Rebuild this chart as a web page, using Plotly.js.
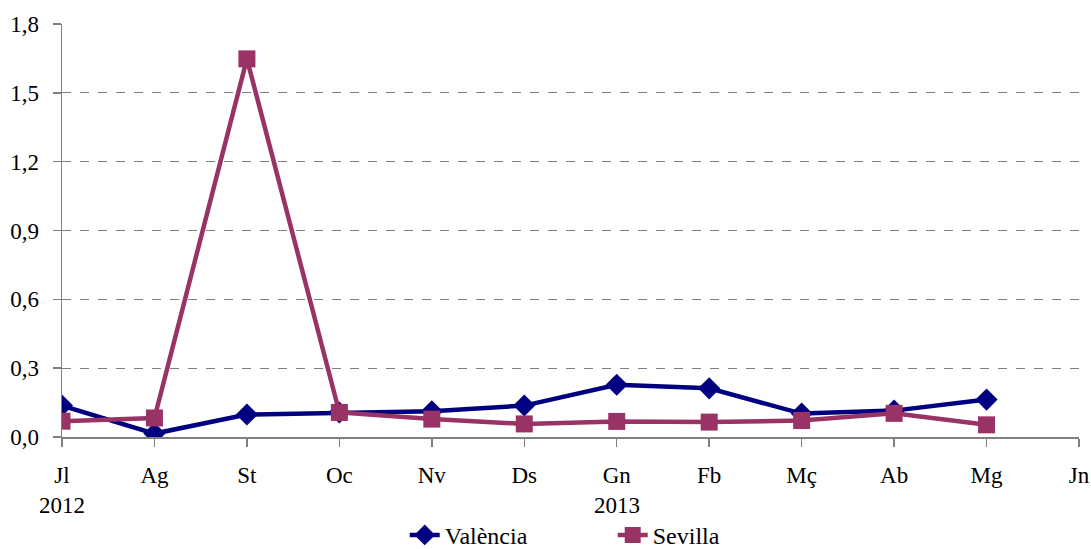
<!DOCTYPE html>
<html>
<head>
<meta charset="utf-8">
<script src="https://cdn.plot.ly/plotly-3.0.1.min.js"></script>
<style>html,body{margin:0;padding:0;background:#fff;}#chart{width:1091px;height:549px;}</style>
</head>
<body>
<div id="chart"></div>
<script>
const months = ["Jl","Ag","St","Oc","Nv","Ds","Gn","Fb","Mç","Ab","Mg","Jn"];
const yearLabels = [{month:"Jl", year:"2012"},{month:"Gn", year:"2013"}];
const valencia = [0.137, 0.015, 0.098, 0.107, 0.112, 0.137, 0.228, 0.212, 0.102, 0.115, 0.163];
const sevilla  = [0.069, 0.083, 1.648, 0.107, 0.078, 0.057, 0.068, 0.065, 0.072, 0.103, 0.053];
const yTicks = [0, 0.3, 0.6, 0.9, 1.2, 1.5, 1.8];

const idx = months.map((m,i)=>i);
const font = "Liberation Serif";

const traces = [
  {x: valencia.map((v,i)=>i), y: valencia, name: "València", mode: "lines+markers",
   line:{color:"#000080", width:4.5}, marker:{symbol:"diamond", size:17, color:"#000080"}},
  {x: sevilla.map((v,i)=>i), y: sevilla, name: "Sevilla", mode: "lines+markers",
   line:{color:"#993366", width:4.5}, marker:{symbol:"square", size:17, color:"#993366"}}
];

const layout = {
  width:1091, height:549,
  margin:{l:62, r:12, t:24, b:111.5, autoexpand:false},
  paper_bgcolor:"#fff", plot_bgcolor:"#fff",
  font:{family:font, size:23, color:"#000"},
  showlegend:true,
  legend:{orientation:"h", x:0.337, xanchor:"left", y:-0.238, yanchor:"middle",
          font:{family:font, size:24, color:"#000"}, entrywidth:163, entrywidthmode:"pixels"},
  xaxis:{range:[0,11], tickvals:idx, ticktext:months, showgrid:false, zeroline:false,
         showline:true, linecolor:"#808080", linewidth:1.5, ticks:"outside", ticklen:8,
         tickcolor:"#808080", tickwidth:1.5, ticklabelstandoff:9, fixedrange:true},
  yaxis:{range:[0,1.8], tickvals:yTicks, ticktext:yTicks.map(v=>v.toFixed(1).replace(".",",")),
         showgrid:true, gridcolor:"#808080", griddash:"dash", gridwidth:1, zeroline:false,
         showline:true, linecolor:"#808080", linewidth:1.5, ticks:"outside", ticklen:8,
         tickcolor:"#808080", tickwidth:1.5, ticklabelstandoff:9, fixedrange:true},
  annotations: yearLabels.map(y=>({x: months.indexOf(y.month), xref:"x", y:0, yref:"paper",
      yanchor:"middle", xanchor:"center", yshift:-68, text:y.year, showarrow:false,
      font:{family:font, size:23, color:"#000"}}))
};

Plotly.newPlot("chart", traces, layout, {displayModeBar:false, staticPlot:true});
</script>
</body>
</html>
